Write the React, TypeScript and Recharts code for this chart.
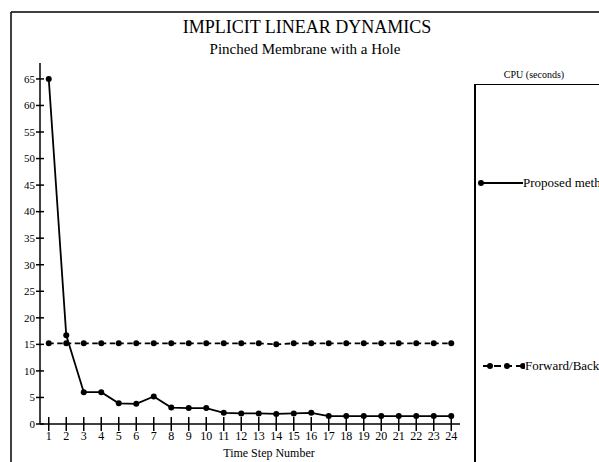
import React from 'react';
import { LineChart, Line, XAxis, YAxis, Legend, Customized } from 'recharts';

const steps = [1, 2, 3, 4, 5, 6, 7, 8, 9, 10, 11, 12, 13, 14, 15, 16, 17, 18, 19, 20, 21, 22, 23, 24];
const proposedMethod = [65, 16.7, 6, 6, 3.9, 3.8, 5.2, 3.1, 3, 3, 2.1, 2, 2, 1.9, 2, 2.1, 1.5, 1.5, 1.5, 1.5, 1.5, 1.5, 1.5, 1.5];
const forwardBackward = [15.2, 15.2, 15.2, 15.2, 15.2, 15.2, 15.2, 15.2, 15.2, 15.2, 15.2, 15.2, 15.2, 15.0, 15.2, 15.2, 15.2, 15.2, 15.2, 15.2, 15.2, 15.2, 15.2, 15.2];
const yTicks = [0, 5, 10, 15, 20, 25, 30, 35, 40, 45, 50, 55, 60, 65];
const seriesNames = ['Proposed method', 'Forward/Backward'];
const titleText = 'IMPLICIT LINEAR DYNAMICS';
const subtitleText = 'Pinched Membrane with a Hole';
const legendTitle = 'CPU (seconds)';
const xLabel = 'Time Step Number';

const data = steps.map((s, i) => ({ step: s, proposed: proposedMethod[i], fb: forwardBackward[i] }));

const FONT = '"Liberation Serif", "Times New Roman", serif';

const XTick = (props: any) => {
  const { x, y, payload } = props;
  return (
    <g>
      <line x1={x} x2={x} y1={y - 14} y2={y - 7} stroke="#000" strokeWidth={1.5} />
      <text x={x} y={y} dy="0.78em" textAnchor="middle" fontSize={12} fontFamily={FONT} fill="#000">
        {payload.value}
      </text>
    </g>
  );
};

const YTick = (props: any) => {
  const { x, y, payload } = props;
  return (
    <g>
      <line x1={x + 5} x2={x + 9} y1={y} y2={y} stroke="#000" strokeWidth={1.5} />
      <text x={x} y={y} dy="0.35em" textAnchor="end" fontSize={11} fontFamily={FONT} fill="#000">
        {payload.value}
      </text>
    </g>
  );
};

const Decor = () => (
  <g>
    <line x1={11} y1={12} x2={11} y2={462} stroke="#000" strokeWidth={1.5} />
    <line x1={11} y1={12} x2={599} y2={12} stroke="#000" strokeWidth={1.5} />
    <text x={307} y={33} textAnchor="middle" fontSize={18} fontFamily={FONT} fill="#000">{titleText}</text>
    <text x={305} y={54} textAnchor="middle" fontSize={15} fontFamily={FONT} fill="#000">{subtitleText}</text>
    <text x={534} y={78} textAnchor="middle" fontSize={10} fontFamily={FONT} fill="#000">{legendTitle}</text>
  </g>
);

const LegendContent = () => (
  <div style={{ position: 'relative', width: 130, height: 380, borderLeft: '2px solid #000', borderTop: '1.5px solid #000', boxSizing: 'border-box', fontFamily: FONT, fontSize: 13 }}>
    <div style={{ position: 'absolute', left: 0, top: 91, display: 'flex', alignItems: 'center', whiteSpace: 'nowrap' }}>
      <svg width={47} height={10} style={{ display: 'block' }}>
        <line x1={5} y1={5} x2={47} y2={5} stroke="#000" strokeWidth={1.8} />
        <circle cx={5} cy={5} r={3} fill="#000" />
      </svg>
      <span style={{ lineHeight: '13px' }}>{seriesNames[0]}</span>
    </div>
    <div style={{ position: 'absolute', left: 0, top: 274, display: 'flex', alignItems: 'center', whiteSpace: 'nowrap' }}>
      <svg width={49} height={10} style={{ display: 'block' }}>
        <line x1={7} y1={5} x2={49} y2={5} stroke="#000" strokeWidth={1.8} strokeDasharray="7 4" />
        <circle cx={14} cy={5} r={3} fill="#000" />
        <circle cx={31} cy={5} r={3} fill="#000" />
        <circle cx={47} cy={5} r={3} fill="#000" />
      </svg>
      <span style={{ lineHeight: '13px' }}>{seriesNames[1]}</span>
    </div>
  </div>
);

export default function App() {
  return (
    <div style={{ position: 'absolute', left: 0, top: 0, width: 599, height: 462, overflow: 'hidden', background: '#fff' }}>
      <LineChart width={599} height={462} data={data} margin={{ top: 63, right: 139, bottom: 2, left: 10 }}>
        <Customized component={Decor} />
        <XAxis
          dataKey="step"
          type="number"
          domain={[0.5, 24.5]}
          ticks={steps}
          interval={0}
          tickSize={7}
          tickMargin={0}
          height={36}
          stroke="#000"
          strokeWidth={1.5}
          tick={<XTick />}
          label={{ value: xLabel, position: 'insideBottom', offset: 3, dx: 19, fontSize: 12, fontFamily: FONT, fill: '#000' }}
        />
        <YAxis
          type="number"
          domain={[0, 68]}
          ticks={yTicks}
          interval={0}
          tickSize={4}
          tickMargin={1}
          width={30}
          stroke="#000"
          strokeWidth={1.5}
          tick={<YTick />}
        />
        <Legend
          layout="horizontal"
          verticalAlign="middle"
          align="center"
          wrapperStyle={{ left: 474, top: 84, width: 130, height: 380 }}
          content={<LegendContent />}
        />
        <Line
          type="linear"
          dataKey="proposed"
          name={seriesNames[0]}
          stroke="#000"
          strokeWidth={1.8}
          dot={{ r: 3, fill: '#000', stroke: '#000', strokeWidth: 0 }}
          isAnimationActive={false}
        />
        <Line
          type="linear"
          dataKey="fb"
          name={seriesNames[1]}
          stroke="#000"
          strokeWidth={1.8}
          strokeDasharray="5 3.5 5.5 3.5"
          dot={{ r: 3, fill: '#000', stroke: '#000', strokeWidth: 0 }}
          isAnimationActive={false}
        />
      </LineChart>
    </div>
  );
}
